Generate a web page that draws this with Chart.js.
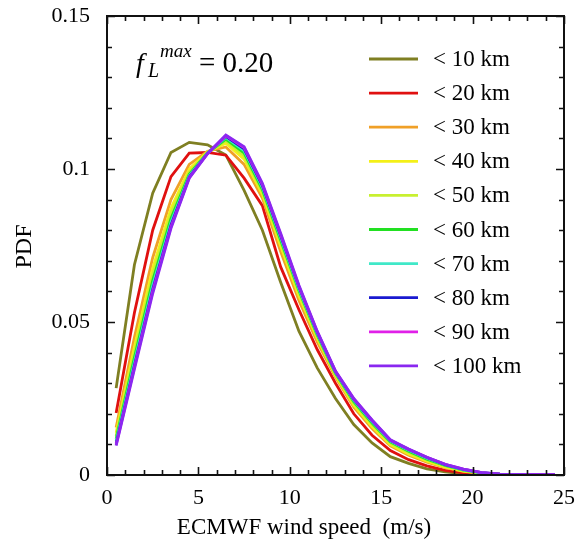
<!DOCTYPE html>
<html>
<head>
<meta charset="utf-8">
<script src="https://cdn.jsdelivr.net/npm/chart.js@4.4.1/dist/chart.umd.min.js"></script>
<style>
  html, body { margin: 0; padding: 0; background: #fff; }
  #wrap { width: 576px; height: 546px; }
</style>
</head>
<body>
<div id="wrap"><canvas id="pdfChart"></canvas></div>
<script>
// bin centres (m/s)
const windSpeed = [0.5, 1.5, 2.5, 3.5, 4.5, 5.5, 6.5, 7.5, 8.5, 9.5, 10.5, 11.5, 12.5,
  13.5, 14.5, 15.5, 16.5, 17.5, 18.5, 19.5, 20.5, 21.5, 22.5, 23.5, 24.5];

const rangeLabels = ['< 10 km', '< 20 km', '< 30 km', '< 40 km', '< 50 km',
  '< 60 km', '< 70 km', '< 80 km', '< 90 km', '< 100 km'];
const rangeColors = ['#7f7f22', '#e01010', '#f0a028', '#f4f018', '#c8f030',
  '#22e022', '#40e8c8', '#1a1ad0', '#e020e8', '#8a28f0'];

const pdf10 = [0.0284, 0.0687, 0.0921, 0.1054, 0.1087, 0.1079, 0.1046, 0.0930, 0.0800, 0.0630, 0.0470, 0.0350, 0.0250,
  0.0165, 0.0105, 0.0060, 0.0038, 0.0020, 0.0010, 0.0004, 0.0001, 0, 0, 0, 0];
const pdf20 = [0.0203, 0.0530, 0.0800, 0.0975, 0.1052, 0.1054, 0.1045, 0.0970, 0.0880, 0.0680, 0.0540, 0.0410, 0.0300,
  0.0200, 0.0130, 0.0080, 0.0050, 0.0030, 0.0015, 0.0007, 0.0003, 0.0001, 0, 0, 0];
const pdf30 = [0.0155, 0.0450, 0.0710, 0.0900, 0.1015, 0.1058, 0.1072, 0.1015, 0.0905, 0.0730, 0.0570, 0.0435, 0.0320,
  0.0222, 0.0152, 0.0095, 0.0065, 0.0042, 0.0024, 0.0012, 0.0005, 0.0002, 0.0001, 0, 0];
const pdf40 = [0.0138, 0.0418, 0.0675, 0.0872, 0.1000, 0.1056, 0.1084, 0.1032, 0.0917, 0.0748, 0.0585, 0.0446, 0.0325,
  0.0228, 0.0158, 0.0099, 0.0069, 0.0045, 0.0026, 0.0013, 0.0006, 0.0002, 0.0001, 0.0001, 0];
const pdf50 = [0.0128, 0.0400, 0.0655, 0.0856, 0.0990, 0.1054, 0.1092, 0.1043, 0.0925, 0.0760, 0.0595, 0.0452, 0.0328,
  0.0235, 0.0165, 0.0104, 0.0074, 0.0049, 0.0029, 0.0015, 0.0006, 0.0002, 0.0001, 0.0001, 0];
const pdf60 = [0.0118, 0.0384, 0.0635, 0.0838, 0.0983, 0.1053, 0.1098, 0.1053, 0.0933, 0.0768, 0.0603, 0.0458, 0.0332,
  0.0240, 0.0170, 0.0108, 0.0078, 0.0052, 0.0031, 0.0016, 0.0007, 0.0003, 0.0001, 0.0001, 0.0001];
const pdf70 = [0.0110, 0.0370, 0.0620, 0.0826, 0.0978, 0.1052, 0.1103, 0.1060, 0.0940, 0.0775, 0.0608, 0.0462, 0.0335,
  0.0244, 0.0174, 0.0111, 0.0081, 0.0055, 0.0033, 0.0017, 0.0007, 0.0003, 0.0002, 0.0001, 0.0001];
const pdf80 = [0.0103, 0.0358, 0.0606, 0.0816, 0.0974, 0.1051, 0.1107, 0.1066, 0.0946, 0.0782, 0.0614, 0.0466, 0.0337,
  0.0247, 0.0177, 0.0113, 0.0083, 0.0057, 0.0034, 0.0018, 0.0008, 0.0003, 0.0002, 0.0001, 0.0001];
const pdf90 = [0.0099, 0.0352, 0.0600, 0.0811, 0.0972, 0.1050, 0.1109, 0.1070, 0.0950, 0.0786, 0.0617, 0.0468, 0.0339,
  0.0249, 0.0179, 0.0114, 0.0084, 0.0058, 0.0035, 0.0019, 0.0008, 0.0003, 0.0002, 0.0001, 0.0001];
const pdf100 = [0.0096, 0.0346, 0.0593, 0.0806, 0.0970, 0.1050, 0.1111, 0.1073, 0.0953, 0.0790, 0.0620, 0.0470, 0.0340,
  0.0250, 0.0180, 0.0115, 0.0085, 0.0058, 0.0035, 0.0019, 0.0008, 0.0003, 0.0002, 0.0001, 0.0001];

const allSeries = [pdf10, pdf20, pdf30, pdf40, pdf50, pdf60, pdf70, pdf80, pdf90, pdf100];

const serif = "'Liberation Serif', 'Times New Roman', serif";

const datasets = allSeries.map((vals, i) => ({
  label: rangeLabels[i],
  data: vals.map((v, j) => ({ x: windSpeed[j], y: v })),
  borderColor: rangeColors[i],
  borderWidth: 2.8,
  pointRadius: 0,
  tension: 0,
  fill: false,
  order: allSeries.length - i // later ranges drawn on top
}));

// frame, inward ticks, annotation, legend and axis titles
const decorations = {
  id: 'decorations',
  afterDraw(chart) {
    const { ctx, chartArea: a, scales: { x, y } } = chart;
    ctx.save();
    ctx.strokeStyle = '#111';
    ctx.lineWidth = 2;
    ctx.strokeRect(a.left, a.top, a.right - a.left, a.bottom - a.top);

    ctx.lineWidth = 1.6;
    ctx.beginPath();
    for (let i = 0; i <= 25; i++) {
      const px = Math.round(x.getPixelForValue(i)) + 0.5;
      const len = i % 5 === 0 ? 8 : 5;
      ctx.moveTo(px, a.bottom); ctx.lineTo(px, a.bottom - len);
      ctx.moveTo(px, a.top); ctx.lineTo(px, a.top + len);
    }
    for (let i = 0; i <= 15; i++) {
      const py = Math.round(y.getPixelForValue(i / 100)) + 0.5;
      const len = i % 5 === 0 ? 8 : 5;
      ctx.moveTo(a.left, py); ctx.lineTo(a.left + len, py);
      ctx.moveTo(a.right, py); ctx.lineTo(a.right - len, py);
    }
    ctx.stroke();

    // f_L^max = 0.20
    ctx.fillStyle = '#000';
    ctx.textBaseline = 'alphabetic';
    ctx.textAlign = 'left';
    const ax = a.left + 29, ay = a.top + 56;
    ctx.font = 'italic 28px ' + serif;
    ctx.fillText('f', ax, ay);
    ctx.font = 'italic 20px ' + serif;
    ctx.fillText('L', ax + 12, ay + 5);
    ctx.font = 'italic 19px ' + serif;
    ctx.fillText('max', ax + 24, ay - 15);
    ctx.font = '29px ' + serif;
    ctx.fillText('= 0.20', ax + 63, ay);

    // legend
    ctx.font = '23px ' + serif;
    ctx.textBaseline = 'middle';
    rangeLabels.forEach((lab, i) => {
      const cy = a.top + 43 + i * 34.1;
      ctx.strokeStyle = rangeColors[i];
      ctx.lineWidth = 2.8;
      ctx.beginPath();
      ctx.moveTo(a.left + 262, cy); ctx.lineTo(a.left + 311, cy);
      ctx.stroke();
      ctx.fillText(lab, a.left + 326, cy + 1);
    });

    // axis titles
    ctx.font = '23px ' + serif;
    ctx.textAlign = 'center';
    ctx.fillText('ECMWF wind speed  (m/s)', 304, 528);
    ctx.translate(25, (a.top + a.bottom) / 2 + 1);
    ctx.rotate(-Math.PI / 2);
    ctx.font = '24px ' + serif;
    ctx.fillText('PDF', 0, 0);
    ctx.restore();
  }
};

new Chart(document.getElementById('pdfChart'), {
  type: 'line',
  data: { datasets },
  options: {
    responsive: true,
    maintainAspectRatio: false,
    animation: false,
    layout: { padding: { top: 16, right: 12, left: 0, bottom: 0 } },
    plugins: { legend: { display: false }, tooltip: { enabled: false } },
    scales: {
      x: {
        type: 'linear', min: 0, max: 25,
        grid: { display: false, drawTicks: false },
        border: { display: false },
        ticks: { stepSize: 5, color: '#000', padding: 10, font: { family: serif, size: 22 } },
        afterFit: s => { s.height = 71; s.paddingLeft = 0; s.paddingRight = 0; }
      },
      y: {
        min: 0, max: 0.15,
        grid: { display: false, drawTicks: false },
        border: { display: false },
        ticks: {
          stepSize: 0.05, color: '#000', padding: 17, font: { family: serif, size: 22 },
          callback: v => String(+v.toFixed(2))
        },
        afterFit: s => { s.width = 107; s.paddingTop = 0; s.paddingBottom = 0; }
      }
    }
  },
  plugins: [decorations]
});
</script>
</body>
</html>
